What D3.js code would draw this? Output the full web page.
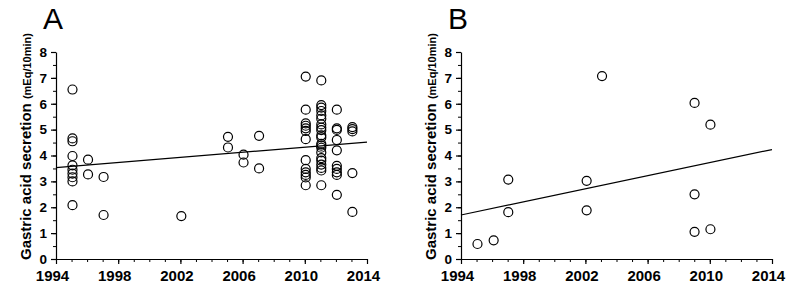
<!DOCTYPE html>
<html>
<head>
<meta charset="UTF-8">
<title></title>
<script src="https://cdn.jsdelivr.net/npm/d3@7"></script>
<style>
  body { margin: 0; background: #fff; }
  svg text { font-family: "Liberation Sans", Arial, sans-serif; }
</style>
</head>
<body>
<svg id="chart" width="806" height="290"></svg>
<script>
// year axis / value axis ticks
var yearTicks = [1994, 1998, 2002, 2006, 2010, 2014];
var yearMinor = d3.range(1994, 2015, 1);
var valueTicks = [0, 1, 2, 3, 4, 5, 6, 7, 8];
var valueMinor = d3.range(0, 8.01, 0.5);

// panel A: one x per column, values in that column
var aYears = [1995.06, 1996.06, 1997.06, 2002.06, 2005.06, 2006.06, 2007.06, 2010.06, 2011.06, 2012.06, 2013.06];
var aValues = [
  [6.55, 4.66, 4.55, 3.98, 3.62, 3.45, 3.3, 3.16, 3.0, 2.08],
  [3.84, 3.27],
  [3.17, 1.7],
  [1.66],
  [4.72, 4.31],
  [4.03, 3.73],
  [4.76, 3.5],
  [7.05, 5.77, 5.24, 5.15, 5.05, 4.95, 4.63, 3.82, 3.48, 3.35, 3.25, 3.15, 2.85],
  [6.9, 5.95, 5.85, 5.72, 5.55, 5.42, 5.2, 5.08, 4.98, 4.78, 4.7, 4.45, 4.38, 4.3, 4.12, 3.9, 3.8, 3.65, 3.52, 3.42, 2.85],
  [5.77, 5.05, 4.99, 4.6, 4.2, 3.6, 3.48, 3.35, 3.25, 2.48],
  [5.1, 5.02, 4.93, 3.32, 1.82]
];
var aFit = [3.53, 4.52];   // fitted value at 1994 and 2014

// panel B
var bYears = [1995.06, 1996.1, 1997.04, 2002.08, 2003.07, 2009.02, 2010.04];
var bValues = [
  [0.58],
  [0.72],
  [3.07, 1.81],
  [3.02, 1.88],
  [7.07],
  [6.03, 2.5, 1.05],
  [5.19, 1.15]
];
var bFit = [1.7, 4.23];

var svg = d3.select('#chart');

function drawPanel(left, letter, years, values, fit) {
    var x = d3.scaleLinear().domain([1994, 2014]).range([left, left + 311]);
    var y = d3.scaleLinear().domain([0, 8]).range([259, 52]);
    var g = svg.append('g');

    // minor ticks
    g.append('g').attr('transform', 'translate(0,259)')
        .call(d3.axisBottom(x).tickValues(yearMinor).tickSize(3).tickSizeOuter(0).tickFormat(''))
        .call(function(s){ s.select('.domain').remove(); });
    g.append('g').attr('transform', 'translate(' + left + ',0)')
        .call(d3.axisLeft(y).tickValues(valueMinor).tickSize(3).tickSizeOuter(0).tickFormat(''))
        .call(function(s){ s.select('.domain').remove(); });

    var xa = g.append('g').attr('transform', 'translate(0,259)')
        .call(d3.axisBottom(x).tickValues(yearTicks).tickSize(5).tickSizeOuter(0).tickPadding(6).tickFormat(d3.format('d')));
    var ya = g.append('g').attr('transform', 'translate(' + left + ',0)')
        .call(d3.axisLeft(y).tickValues(valueTicks).tickSize(5).tickSizeOuter(0).tickPadding(4));
    [xa, ya].forEach(function(a){
        a.selectAll('text').attr('fill', '#000').style('font-weight', 'bold');
        a.selectAll('line,path').attr('stroke', '#000').attr('stroke-width', 1.2);
    });
    xa.selectAll('text').style('font-size', '15px').attr('dx', '-4');
    ya.selectAll('text').style('font-size', '13.5px');

    // fit line
    g.append('line')
        .attr('x1', x(1994)).attr('y1', y(fit[0]))
        .attr('x2', x(2014)).attr('y2', y(fit[1]))
        .attr('stroke', '#000').attr('stroke-width', 1.2);

    var pts = [];
    years.forEach(function(yr, i){
        values[i].forEach(function(v){ pts.push({year: yr, value: v}); });
    });
    g.selectAll('circle').data(pts).enter().append('circle')
        .attr('cx', function(d){ return x(d.year); })
        .attr('cy', function(d){ return y(d.value); })
        .attr('r', 4.5)
        .attr('fill', 'none')
        .attr('stroke', '#000')
        .attr('stroke-width', 1.2);

    // panel letter
    g.append('text').attr('x', left - 13).attr('y', 29)
        .style('font-size', '30px').text(letter);

    // y label
    var lab = g.append('text')
        .attr('transform', 'translate(' + (left - 25) + ',260) rotate(-90)')
        .style('font-weight', 'bold');
    lab.append('tspan').style('font-size', '15px').text('Gastric acid secretion ');
    lab.append('tspan').style('font-size', '11px').text('(mEq/10min)');
}

drawPanel(56, 'A', aYears, aValues, aFit);
drawPanel(461, 'B', bYears, bValues, bFit);
</script>
</body>
</html>
